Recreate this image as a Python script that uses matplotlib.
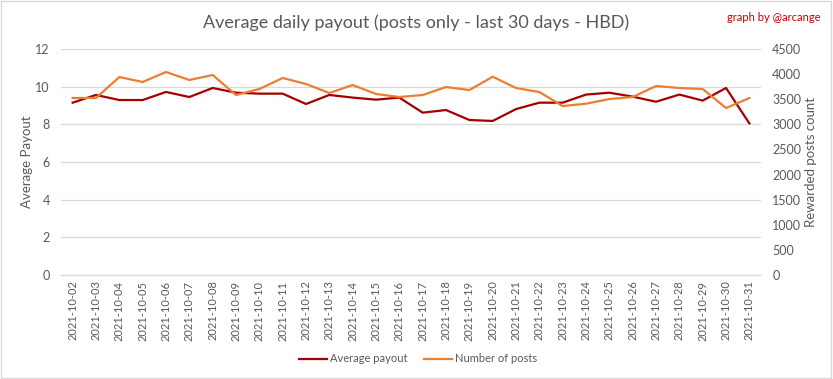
import matplotlib

matplotlib.use("Agg")
import matplotlib.pyplot as plt
from matplotlib.patches import Rectangle

# --- data -------------------------------------------------------------------
dates = [f"2021-10-{d:02d}" for d in range(2, 32)]
avg_payout = [9.15, 9.56, 9.29, 9.29, 9.72, 9.45, 9.93, 9.68, 9.63, 9.63,
              9.08, 9.56, 9.42, 9.31, 9.42, 8.62, 8.76, 8.23, 8.18, 8.81,
              9.15, 9.15, 9.58, 9.68, 9.47, 9.20, 9.58, 9.26, 9.93, 8.05]
num_posts = [3525, 3525, 3942, 3843, 4042, 3883, 3982, 3584, 3704, 3923,
             3803, 3624, 3783, 3604, 3544, 3584, 3743, 3683, 3948, 3723,
             3643, 3364, 3411, 3504, 3544, 3763, 3723, 3703, 3325, 3524]

DARK_RED = "#A50000"
ORANGE = "#ED7D31"
GREY_TXT = "#595959"
GRID = "#D9D9D9"

plt.rcParams["font.family"] = ["Lato", "DejaVu Sans"]

fig = plt.figure(figsize=(8.33, 3.79), dpi=100)
ax = fig.add_axes([0.0732, 0.2744, 0.8404, 0.5963])
ax2 = ax.twinx()

x = list(range(len(dates)))
l1, = ax.plot(x, avg_payout, color=DARK_RED, lw=1.6, label="Average payout")
l2, = ax2.plot(x, num_posts, color=ORANGE, lw=1.6, label="Number of posts")

ax.set_xlim(-0.5, len(dates) - 0.5)
ax.set_ylim(0, 12)
ax.set_yticks(range(0, 13, 2))
ax2.set_ylim(0, 4500)
ax2.set_yticks(range(0, 4501, 500))

ax.set_xticks(x)
ax.set_xticklabels(dates, rotation=90, fontsize=8, color=GREY_TXT)
ax.tick_params(axis="x", length=0, pad=4)
ax.tick_params(axis="y", length=0, labelsize=9, labelcolor=GREY_TXT, pad=8)
ax2.tick_params(axis="y", length=0, labelsize=9, labelcolor=GREY_TXT, pad=8)

ax.grid(axis="y", color=GRID, lw=0.9)
ax.set_axisbelow(True)
for a in (ax, ax2):
    for s in ("top", "left", "right"):
        a.spines[s].set_visible(False)
    a.spines["bottom"].set_color(GRID)

ax.set_ylabel("Average Payout", fontsize=9.5, color=GREY_TXT, labelpad=2)
ax2.set_ylabel("Rewarded posts count", fontsize=9.5, color=GREY_TXT, labelpad=3)

fig.text(0.5, 0.94, "Average daily payout (posts only - last 30 days - HBD)",
         ha="center", va="center", fontsize=13, color=GREY_TXT)
fig.text(0.985, 0.955, "graph by @arcange", ha="right", va="center",
         fontsize=8, color="#C00000")

fig.legend(handles=[l1, l2], loc="center", bbox_to_anchor=(0.502, 0.053),
           ncol=2, frameon=False, fontsize=8, handlelength=2.5,
           handletextpad=0.3, columnspacing=1.5, labelcolor=GREY_TXT)

fig.patches.append(Rectangle((0.001, 0.002), 0.997, 0.995, transform=fig.transFigure,
                             fill=False, edgecolor="#D9D9D9", lw=1))

fig.savefig("out.png", dpi=100)
